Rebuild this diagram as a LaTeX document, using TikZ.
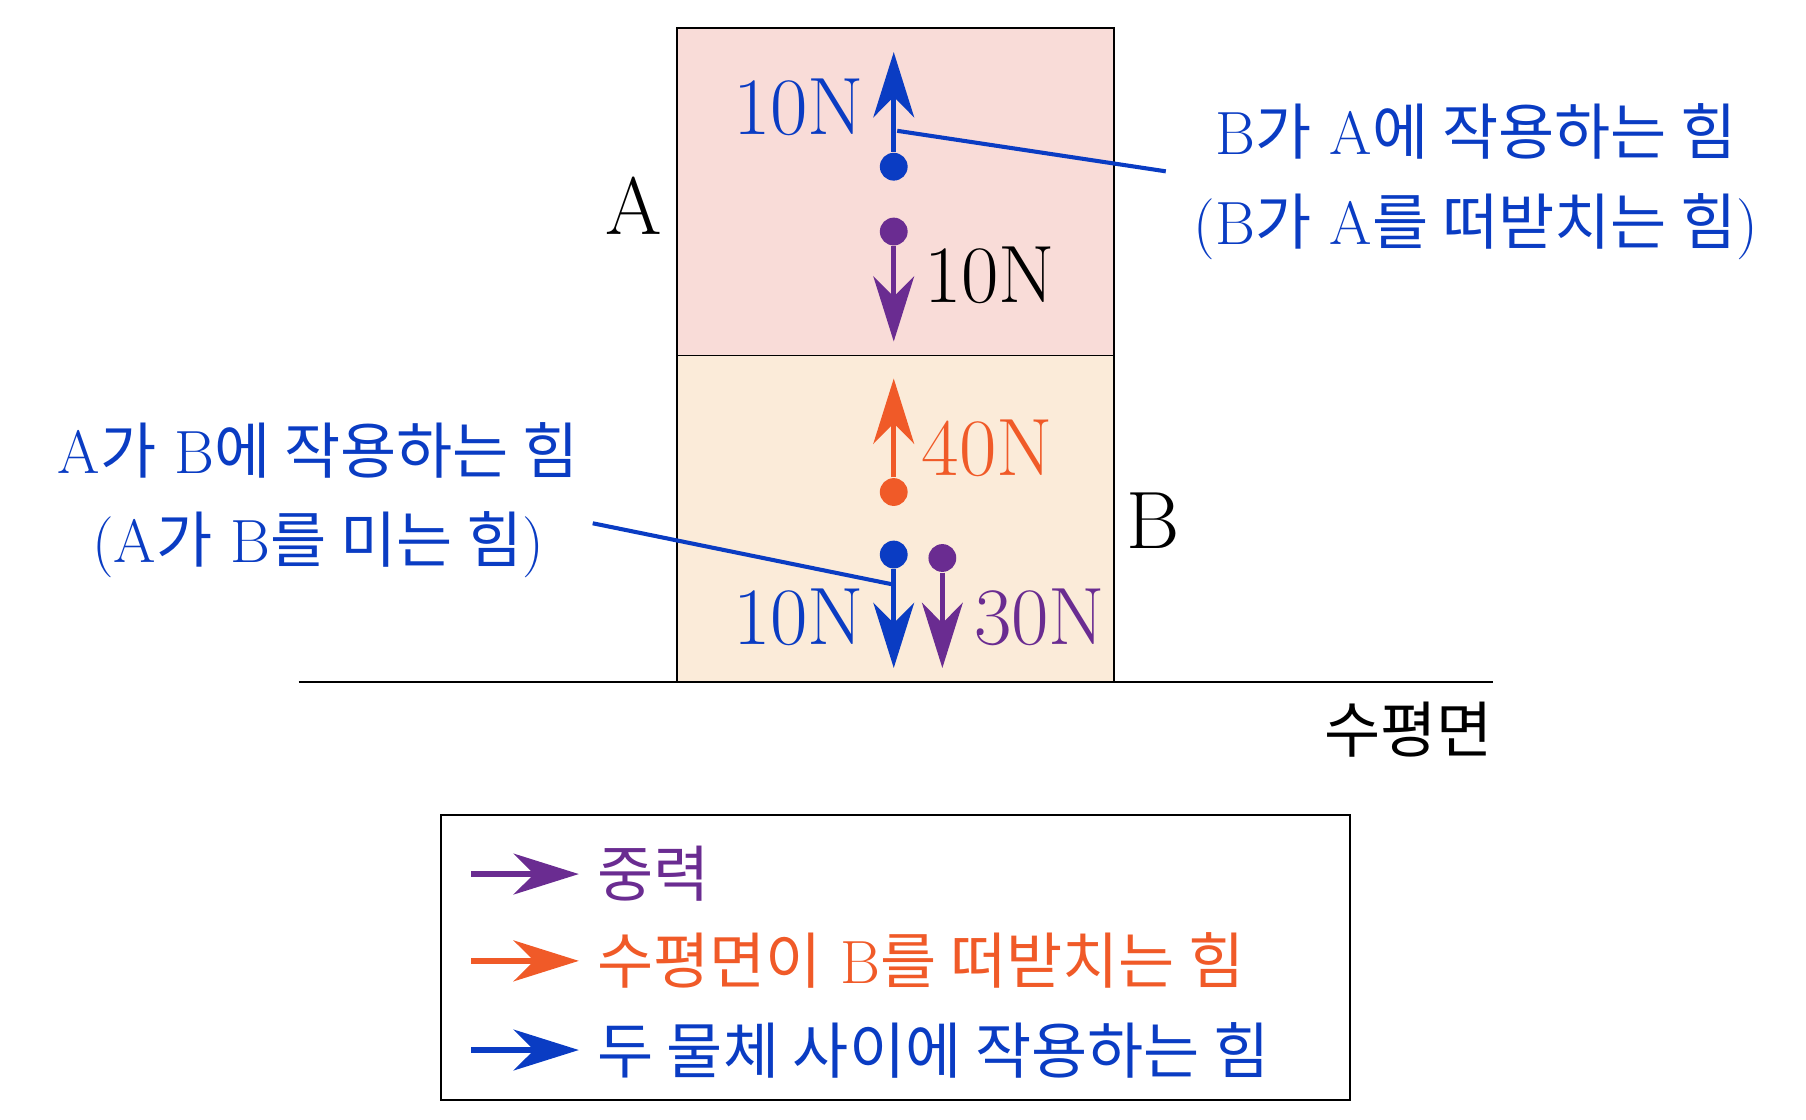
\documentclass[tikz,border=0pt]{standalone}
\usepackage{fontspec}
\newfontfamily\kr{Noto Sans CJK KR}
\usetikzlibrary{arrows.meta}
\definecolor{fblue}{HTML}{0A3CC3}
\definecolor{fpurple}{HTML}{6A2C91}
\definecolor{forange}{HTML}{F05A28}
\definecolor{boxA}{HTML}{F9DCD8}
\definecolor{boxB}{HTML}{FBEBD9}
\newcommand{\K}[1]{{\kr #1}}
\tikzset{
  force/.style={line width=1.3pt,-{Stealth[length=16pt,width=10pt,inset=5pt]}},
  dot/.style={circle,fill,inner sep=0pt,minimum size=0.24cm},
  lbl/.style={font=\fontsize{20}{22}\selectfont,inner sep=0pt},
  klbl/.style={font=\fontsize{15}{22}\selectfont,inner sep=0pt,align=center}
}
\begin{document}
\begin{tikzpicture}[x=0.01cm,y=-0.01cm]
\useasboundingbox (0,0) rectangle (1560,967);
% blocks
\draw[fill=boxA] (585,24) rectangle (962,307);
\draw[fill=boxB] (585,307) rectangle (962,589);
\draw (258,589) -- (1290,589);
\node[lbl] (labA) at (547,178) {A};
\node[lbl] (labB) at (996,450) {B};
\node[klbl,anchor=east] (floor) at (1290,630) {\K{수평면}};
% forces on A
\node[dot,fblue] (d1) at (772,144) {};
\coordinate (t1) at (772,45);
\draw[force,fblue] (d1) -- (t1);
\node[lbl,fblue] (n1) at (690,93) {10N};
\node[dot,fpurple] (d2) at (772,200) {};
\coordinate (t2) at (772,295);
\draw[force,fpurple] (d2) -- (t2);
\node[lbl] (n2) at (855,238) {10N};
% forces on B
\node[dot,forange] (d3) at (772,425) {};
\coordinate (t3) at (772,327);
\draw[force,forange] (d3) -- (t3);
\node[lbl,forange] (n3) at (853,387) {40N};
\node[dot,fblue] (d4) at (772,479) {};
\coordinate (t4) at (772,577);
\draw[force,fblue] (d4) -- (t4);
\node[lbl,fblue] (n4) at (690,533) {10N};
\node[dot,fpurple] (d5) at (814,482) {};
\coordinate (t5) at (814,577);
\draw[force,fpurple] (d5) -- (t5);
\node[lbl,fpurple] (n5) at (898,533) {30N};
% callouts
\node[klbl,fblue] (c1) at (1275,157) {B\K{가} A\K{에 작용하는 힘}\\(B\K{가} A\K{를 떠받치는 힘})};
\coordinate (p1) at (775,113);
\coordinate (q1) at (1007,148);
\draw[fblue,line width=1pt] (p1) -- (q1);
\node[klbl,fblue] (c2) at (275,432) {A\K{가} B\K{에 작용하는 힘}\\(A\K{가} B\K{를 미는 힘})};
\coordinate (p2) at (512,452);
\coordinate (q2) at (772,505);
\draw[fblue,line width=1pt] (p2) -- (q2);
% legend
\draw (381,704) rectangle (1166,950);
\foreach \y/\c/\t in {755/fpurple/{\K{중력}},830/forange/{\K{수평면이} B\K{를 떠받치는 힘}},907/fblue/{\K{두 물체 사이에 작용하는 힘}}}{
  \coordinate (s\y) at (407,\y);
  \coordinate (e\y) at (500,\y);
  \draw[force,\c,line width=1.6pt] (s\y) -- (e\y);
  \node[klbl,\c,anchor=west] (leg\y) at (515,\y) {\t};
}
\end{tikzpicture}
\end{document}
